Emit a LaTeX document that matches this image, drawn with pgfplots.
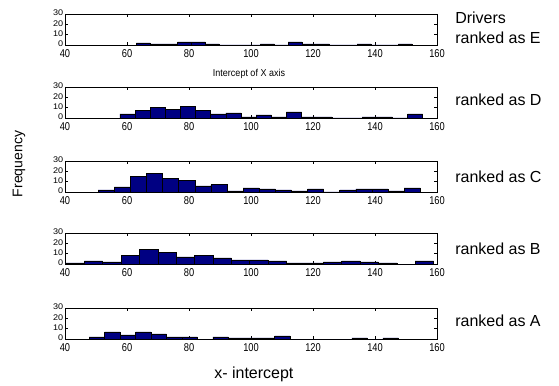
\documentclass[border=0pt]{standalone}
\usepackage{pgfplots}
\pgfplotsset{compat=1.18}
\usepackage{fontspec}
\setmainfont{Liberation Sans}
\definecolor{barblue}{RGB}{0,0,130}
\pgfplotsset{panel/.style={
  scale only axis, width=279pt, height=23.25pt,
  anchor=south west,
  xmin=40, xmax=160, ymin=0, ymax=30,
  xtick={40,60,...,160}, ytick={0,10,20,30},
  tick align=inside, major tick length=2.5pt,
  axis line style={black, line width=0.5pt},
  every tick/.style={black, line width=0.4pt},
  /pgf/number format/assume math mode=true,
  ticklabel style={font=\fontsize{8.5}{9}\selectfont},
  x tick label style={xscale=0.82, inner sep=0pt, yshift=-3pt},
  y tick label style={xscale=0.8, yscale=0.72, inner sep=0pt, xshift=-1.5pt, yshift=1pt},
}}
\begin{document}
\begin{tikzpicture}
\path[use as bounding box] (0,0) rectangle (419.25pt,288.75pt);
% E
\begin{axis}[panel, at={(48.75pt,255pt)}]
\addplot[ybar interval, fill=barblue, draw=black, line width=0.4pt] coordinates {
(63.00,2) (67.45,1) (71.90,1) (76.35,3) (80.80,3) (85.25,1) (89.70,0) (94.15,0) (98.60,0) (103.05,1)
(107.50,0) (111.95,3) (116.40,1) (120.85,1) (125.30,0) (129.75,0) (134.20,1) (138.65,0) (143.10,0) (147.55,1) (152.00,0)};
\end{axis}
% D
\begin{axis}[panel, at={(48.75pt,200.25pt)}]
\addplot[ybar interval, fill=barblue, draw=black, line width=0.4pt] coordinates {
(57.70,4) (62.59,7) (67.47,10) (72.36,8) (77.24,11) (82.13,7) (87.01,4) (91.90,5) (96.78,1) (101.67,3)
(106.55,1) (111.44,6) (116.32,1) (121.21,1) (126.09,0) (130.98,0) (135.86,1) (140.75,1) (145.63,0) (150.52,4) (155.40,0)};
\end{axis}
% C
\begin{axis}[panel, at={(48.75pt,144.75pt)}]
\addplot[ybar interval, fill=barblue, draw=black, line width=0.4pt] coordinates {
(50.70,2) (55.90,5) (61.09,15) (66.29,18) (71.48,13) (76.68,11) (81.87,6) (87.07,7) (92.26,1) (97.46,4)
(102.65,3) (107.85,2) (113.04,1) (118.24,3) (123.43,0) (128.63,2) (133.82,3) (139.02,3) (144.21,1) (149.41,4) (154.60,0)};
\end{axis}
% B
\begin{axis}[panel, at={(48.75pt,90.75pt)}]
\addplot[ybar interval, fill=barblue, draw=black, line width=0.4pt] coordinates {
(40.30,1) (46.23,3) (52.16,2) (58.09,8) (64.02,14) (69.95,11) (75.88,7) (81.81,8) (87.74,6) (93.67,4)
(99.60,4) (105.53,3) (111.46,1) (117.39,1) (123.32,2) (129.25,3) (135.18,2) (141.11,1) (147.04,0) (152.97,3) (158.90,0)};
\end{axis}
% A
\begin{axis}[panel, at={(48.75pt,34.5pt)}]
\addplot[ybar interval, fill=barblue, draw=black, line width=0.4pt] coordinates {
(47.80,2) (52.79,7) (57.77,4) (62.76,7) (67.74,5) (72.73,2) (77.71,2) (82.70,0) (87.68,2) (92.67,1)
(97.65,1) (102.64,1) (107.62,3) (112.61,0) (117.59,0) (122.58,0) (127.56,0) (132.55,1) (137.53,0) (142.52,1) (147.50,0)};
\end{axis}
\node[font=\fontsize{7.5}{9}\selectfont, xscale=0.9] at (186.75pt,233pt) {Intercept of X axis};
\node[font=\fontsize{10.5}{12}\selectfont, rotate=90] at (14.25pt,165.75pt) {Frequency};
\node[font=\fontsize{12}{14}\selectfont, anchor=base] at (190.4pt,5.25pt) {x- intercept};
\begin{scope}[every node/.style={font=\fontsize{12}{14}\selectfont, anchor=base west, inner sep=0pt}]
\node at (341.25pt,270.75pt) {Drivers};
\node at (341.25pt,255.75pt) {ranked as E};
\node at (341.25pt,209.25pt) {ranked as D};
\node at (341.25pt,151.7pt) {ranked as C};
\node at (341.25pt,98pt) {ranked as B};
\node at (341.25pt,43.7pt) {ranked as A};
\end{scope}
\end{tikzpicture}
\end{document}
